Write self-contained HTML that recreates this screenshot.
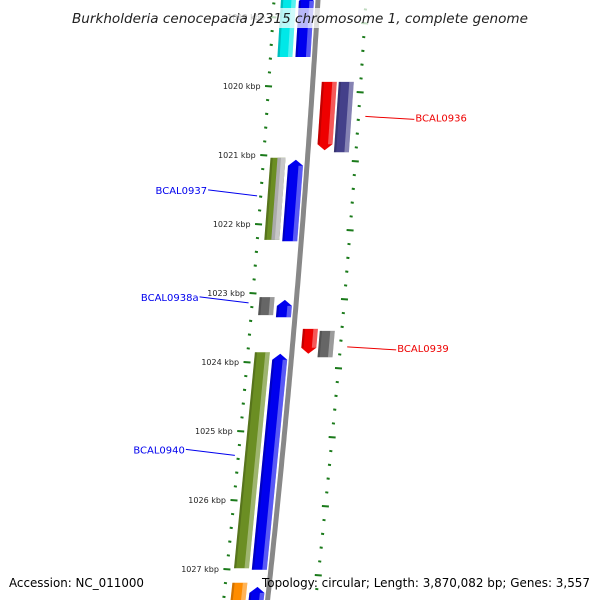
<!DOCTYPE html>
<html><head><meta charset="utf-8"><style>
body{margin:0;background:#fff}
svg{display:block;font-family:"DejaVu Sans","Liberation Sans",sans-serif}
</style></head><body>
<svg id="map" width="600" height="600" viewBox="0 0 600 600" xmlns="http://www.w3.org/2000/svg">
<rect width="600" height="600" fill="#fff"/>
<g id="ticks"></g><g id="backbone"></g><g id="genes"></g><g id="labels"></g>
<rect x="68" y="8" width="464" height="20" fill="#fff" opacity="0.72"/>
<text x="300" y="23" text-anchor="middle" font-size="13" font-style="italic" fill="#222" textLength="456" lengthAdjust="spacingAndGlyphs">Burkholderia cenocepacia J2315 chromosome 1, complete genome</text>
<text x="9" y="587" font-size="12" fill="#000" textLength="135" lengthAdjust="spacingAndGlyphs">Accession: NC_011000</text>
<text x="262" y="587" font-size="12" fill="#000" textLength="328" lengthAdjust="spacingAndGlyphs">Topology: circular; Length: 3,870,082 bp; Genes: 3,557</text>
</svg>
<script>
const majorTicks=[1019,1020,1021,1022,1023,1024,1025,1026,1027];
const geneNames=["cyan1","blue1","BCAL0936","purple1","olive1","BCAL0937","gray2","BCAL0938a","BCAL0939","gray3","olive2","BCAL0940","orange1","blue5"];
const geneStart=[1018.68,1018.68,1019.94,1019.94,1021.04,1021.07,1023.06,1023.10,1023.52,1023.55,1023.86,1023.88,1027.20,1027.26];
const geneEnd=[1019.58,1019.58,1020.93,1020.96,1022.23,1022.25,1023.32,1023.35,1023.88,1023.93,1026.99,1027.01,1027.7,1027.7];
const geneTrack=["L2","L1","R1","R2","L2","L1","L2","L1","R1","R2","L2","L1","L2","L1"];
const geneStrand=[0,1,-1,0,0,1,0,1,-1,0,0,1,0,1];
const geneColor=["#00e8e8","#0000ee","#ee0000","#44408a","#6b8e23","#0000ee","#666666","#0000ee","#ee0000","#666666","#6b8e23","#0000ee","#ff8c00","#0000ee"];
const labelGenes=["BCAL0936","BCAL0937","BCAL0938a","BCAL0939","BCAL0940"];
const labelSide=["R","L","L","R","L"];
const labelKbp=[1020.47,1021.52,1023.07,1023.81,1025.28];

const NS="http://www.w3.org/2000/svg";
function yOf(k){return 86+(k-1020)*69;}
function bx(y){return 318-0.06*y-0.00004*y*y;}
const trackOff={L2:[-37,-22],L1:[-19,-4],R1:[9,24],R2:[26,41]};
function mk(t,a,p){const e=document.createElementNS(NS,t);for(const k in a)e.setAttribute(k,a[k]);p.appendChild(e);return e;}
function P(o,y){return (bx(y)+o).toFixed(1)+","+y.toFixed(1);}

const bb=document.getElementById('backbone');
let d="";for(let y=-5;y<=605;y+=5)d+=(y===-5?"M":"L")+(bx(y)+0).toFixed(1)+" "+y;
const b1=mk('path',{d:d,stroke:'#888',"stroke-width":5,fill:'none'},bb);



const tg=document.getElementById('ticks');
for(let k=1018.6;k<=1027.8;k+=0.2){
  const kk=Math.round(k*10)/10;const major=Math.abs(kk-Math.round(kk))<0.01;
  [[-44,0],[48,6]].forEach(([off,dy])=>{
    const y=yOf(kk)+dy;if(y<-5||y>605)return;const x=bx(y)+off;const L=major?7:3;
    const t=mk('line',{x1:x-L/2,y1:y,x2:x+L/2,y2:y+0.5,stroke:'#1a7a1a',"stroke-width":2},tg);
    
    
  });
}
majorTicks.forEach(k=>{
  const y=yOf(k);const x=bx(y)-44-8;
  const t=mk('text',{x:x,y:y+3,"text-anchor":"end","font-size":8,fill:'#222'},tg);
  t.textContent=k+" kbp";
  
  
});

const gg=document.getElementById('genes');
geneNames.forEach((n,i)=>{
  const y1=yOf(geneStart[i]),y2=yOf(geneEnd[i]);const [o1,o2]=trackOff[geneTrack[i]];
  const om=(o1+o2)/2;let pts;
  if(geneStrand[i]===1){pts=[P(o1,y2),P(o1,y1+6),P(om,y1),P(o2,y1+6),P(o2,y2)];}
  else if(geneStrand[i]===-1){pts=[P(o1,y1),P(o2,y1),P(o2,y2-6),P(om,y2),P(o1,y2-6)];}
  else pts=[P(o1,y1),P(o2,y1),P(o2,y2),P(o1,y2)];
  const g=mk('g',{},gg);
  
  
  mk('polygon',{points:pts.join(" "),fill:geneColor[i]},g);
  if(n==="olive1"){mk('polygon',{points:[P(o1+7,y1),P(o2,y1),P(o2,y2),P(o1+7,y2)].join(" "),fill:'#aaa'},g);}
  const w=o2-o1;const ya=y1+(geneStrand[i]===1?6:0),yb=y2-(geneStrand[i]===-1?6:0);
  mk('polygon',{points:[P(o2-w*0.3,ya),P(o2,ya),P(o2,yb),P(o2-w*0.3,yb)].join(" "),fill:'#fff',opacity:0.35},g);
  mk('polygon',{points:[P(o1,ya),P(o1+w*0.15,ya),P(o1+w*0.15,yb),P(o1,yb)].join(" "),fill:'#000',opacity:0.18},g);
});

const lg=document.getElementById('labels');
labelGenes.forEach((n,i)=>{
  const y=yOf(labelKbp[i]);const side=labelSide[i];
  const col=side==="L"?"#0000ee":"#ee0000";
  let tx,lx1,ly1,lx2,ly2;
  if(side==="L"){const gx=bx(y)-48;tx=gx-50;lx1=tx+1;ly1=y-1;lx2=gx;ly2=y+5;}
  else{const gx=bx(y)+55;tx=gx+50;lx1=gx;ly1=y-2;lx2=tx-1;ly2=y+1;}
  mk('line',{x1:lx1,y1:ly1,x2:lx2,y2:ly2,stroke:col,"stroke-width":1},lg);
  const t=mk('text',{x:tx,y:y+3,"text-anchor":side==="L"?"end":"start","font-size":10,fill:col},lg);
  t.textContent=n;
  
  
});
</script>
</body></html>
